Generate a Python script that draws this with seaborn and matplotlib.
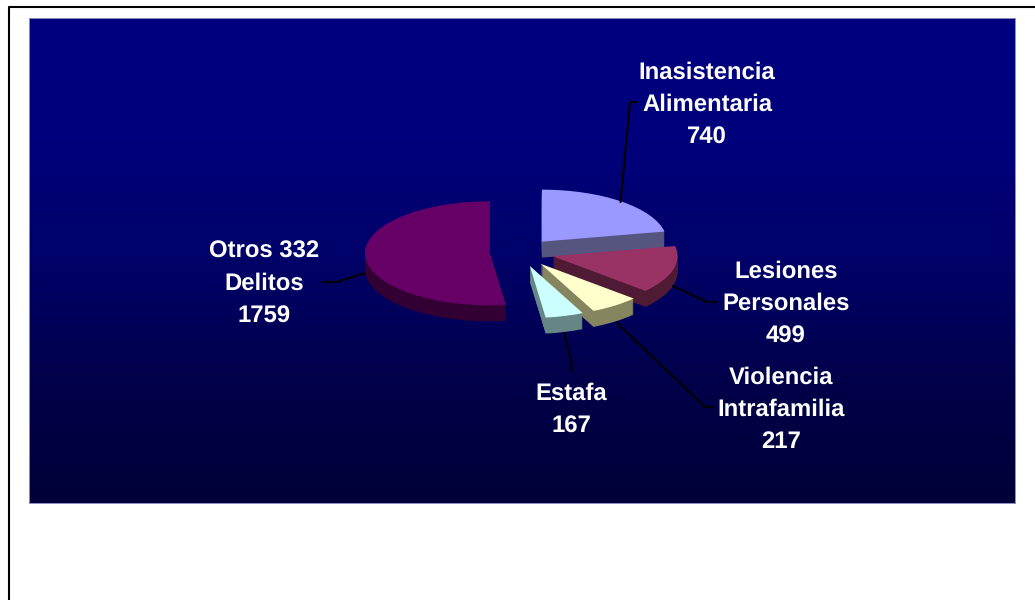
import numpy as np
import seaborn as sns
import matplotlib.pyplot as plt

# ======================= VALUES ============================================ #
delitos = ['Inasistencia\nAlimentaria\n740', 'Lesiones\nPersonales\n499',
           'Violencia\nIntrafamilia\n217', 'Estafa\n167', 'Otros 332\nDelitos\n1759']
casos = [740, 499, 217, 167, 1759]
explode = [0.27, 0.265, 0.27, 0.27, 0.245]
top_colors = ['#9999FF', '#993366', '#FFFFCC', '#CCFFFF', '#660066']
side_colors = ['#55557F', '#4F1A33', '#85855F', '#668585', '#330033']
bg_colors = ['#000080', '#00007C', '#000068', '#00004A', '#000038']

# label centres and leader lines, in pixels of the 1035x600 picture
label_pos = [(707, 105), (786, 304), (781, 410), (571, 410), (264, 284)]
leaders = [[(620.5, 202), (630, 102), (637, 102)],
           [(673, 286), (707, 302), (717, 302)],
           [(617, 323), (705, 407), (713, 407)],
           [(564, 333), (571.5, 362), (571.5, 371)],
           [(365, 273), (337, 282), (323, 282)]]

# plot area and pie geometry, in pixels
left, right, top, bottom = 29, 1014.5, 18, 503
cx, cy, rx, ry, depth = 520.5, 252.5, 125, 52, 16

sns.set_theme(style='white')
plt.rcParams['font.family'] = ['Liberation Sans', 'DejaVu Sans']
plt.rcParams['text.hinting'] = 'none'

W, H = 1035, 600
fig = plt.figure(figsize=(W/100, H/100), dpi=100, facecolor='white')

# ======================= BACKGROUND ======================================== #
rect = [left/W, 1 - bottom/H, (right-left)/W, (bottom-top)/H]
bg = fig.add_axes(rect, zorder=1)
grad = sns.blend_palette(bg_colors, as_cmap=True)
bg.imshow(np.linspace(0, 1, 256).reshape(-1, 1), cmap=grad, aspect='auto')
bg.set_xticks([])
bg.set_yticks([])
for s in bg.spines.values():
    s.set_color('#8C8CC0')
    s.set_linewidth(0.7)

# ======================= PIE (extruded by stacking) ======================== #
ax = fig.add_axes(rect, zorder=2)
ax.patch.set_alpha(0)
for d in range(depth, 0, -1):
    wedges, _ = ax.pie(casos, explode=explode, startangle=90, counterclock=False,
                       colors=side_colors, center=(0, -d/ry), radius=1,
                       wedgeprops={'linewidth': 0})
    for i, w in enumerate(wedges):
        w.set_zorder(2*i + 1)
wedges, _ = ax.pie(casos, explode=explode, startangle=90, counterclock=False,
                   colors=top_colors, center=(0, 0), radius=1,
                   wedgeprops={'linewidth': 0})
for i, w in enumerate(wedges):
    w.set_zorder(2*i + 2)
ax.set_aspect('auto')
ax.set_xlim((left-cx)/rx, (right-cx)/rx)
ax.set_ylim((cy-bottom)/ry, (cy-top)/ry)

# ======================= FRAME, LEADERS, LABELS ============================ #
over = fig.add_axes([0, 0, 1, 1], zorder=3)
over.patch.set_alpha(0)
over.set_xlim(0, W)
over.set_ylim(H, 0)
over.axis('off')
sns.lineplot(x=[9, 9, W], y=[H, 7, 7], sort=False, estimator=None, color='black',
             linewidth=1.5, ax=over)
for line in leaders:
    xs, ys = zip(*line)
    over.plot(xs, ys, color='black', linewidth=1.5, solid_joinstyle='miter')
for lab, (x, y) in zip(delitos, label_pos):
    over.text(x, y, lab, color='white', fontsize=17.2, fontweight='bold',
              ha='center', va='center', linespacing=1.57)

fig.savefig('out.png', dpi=100)
